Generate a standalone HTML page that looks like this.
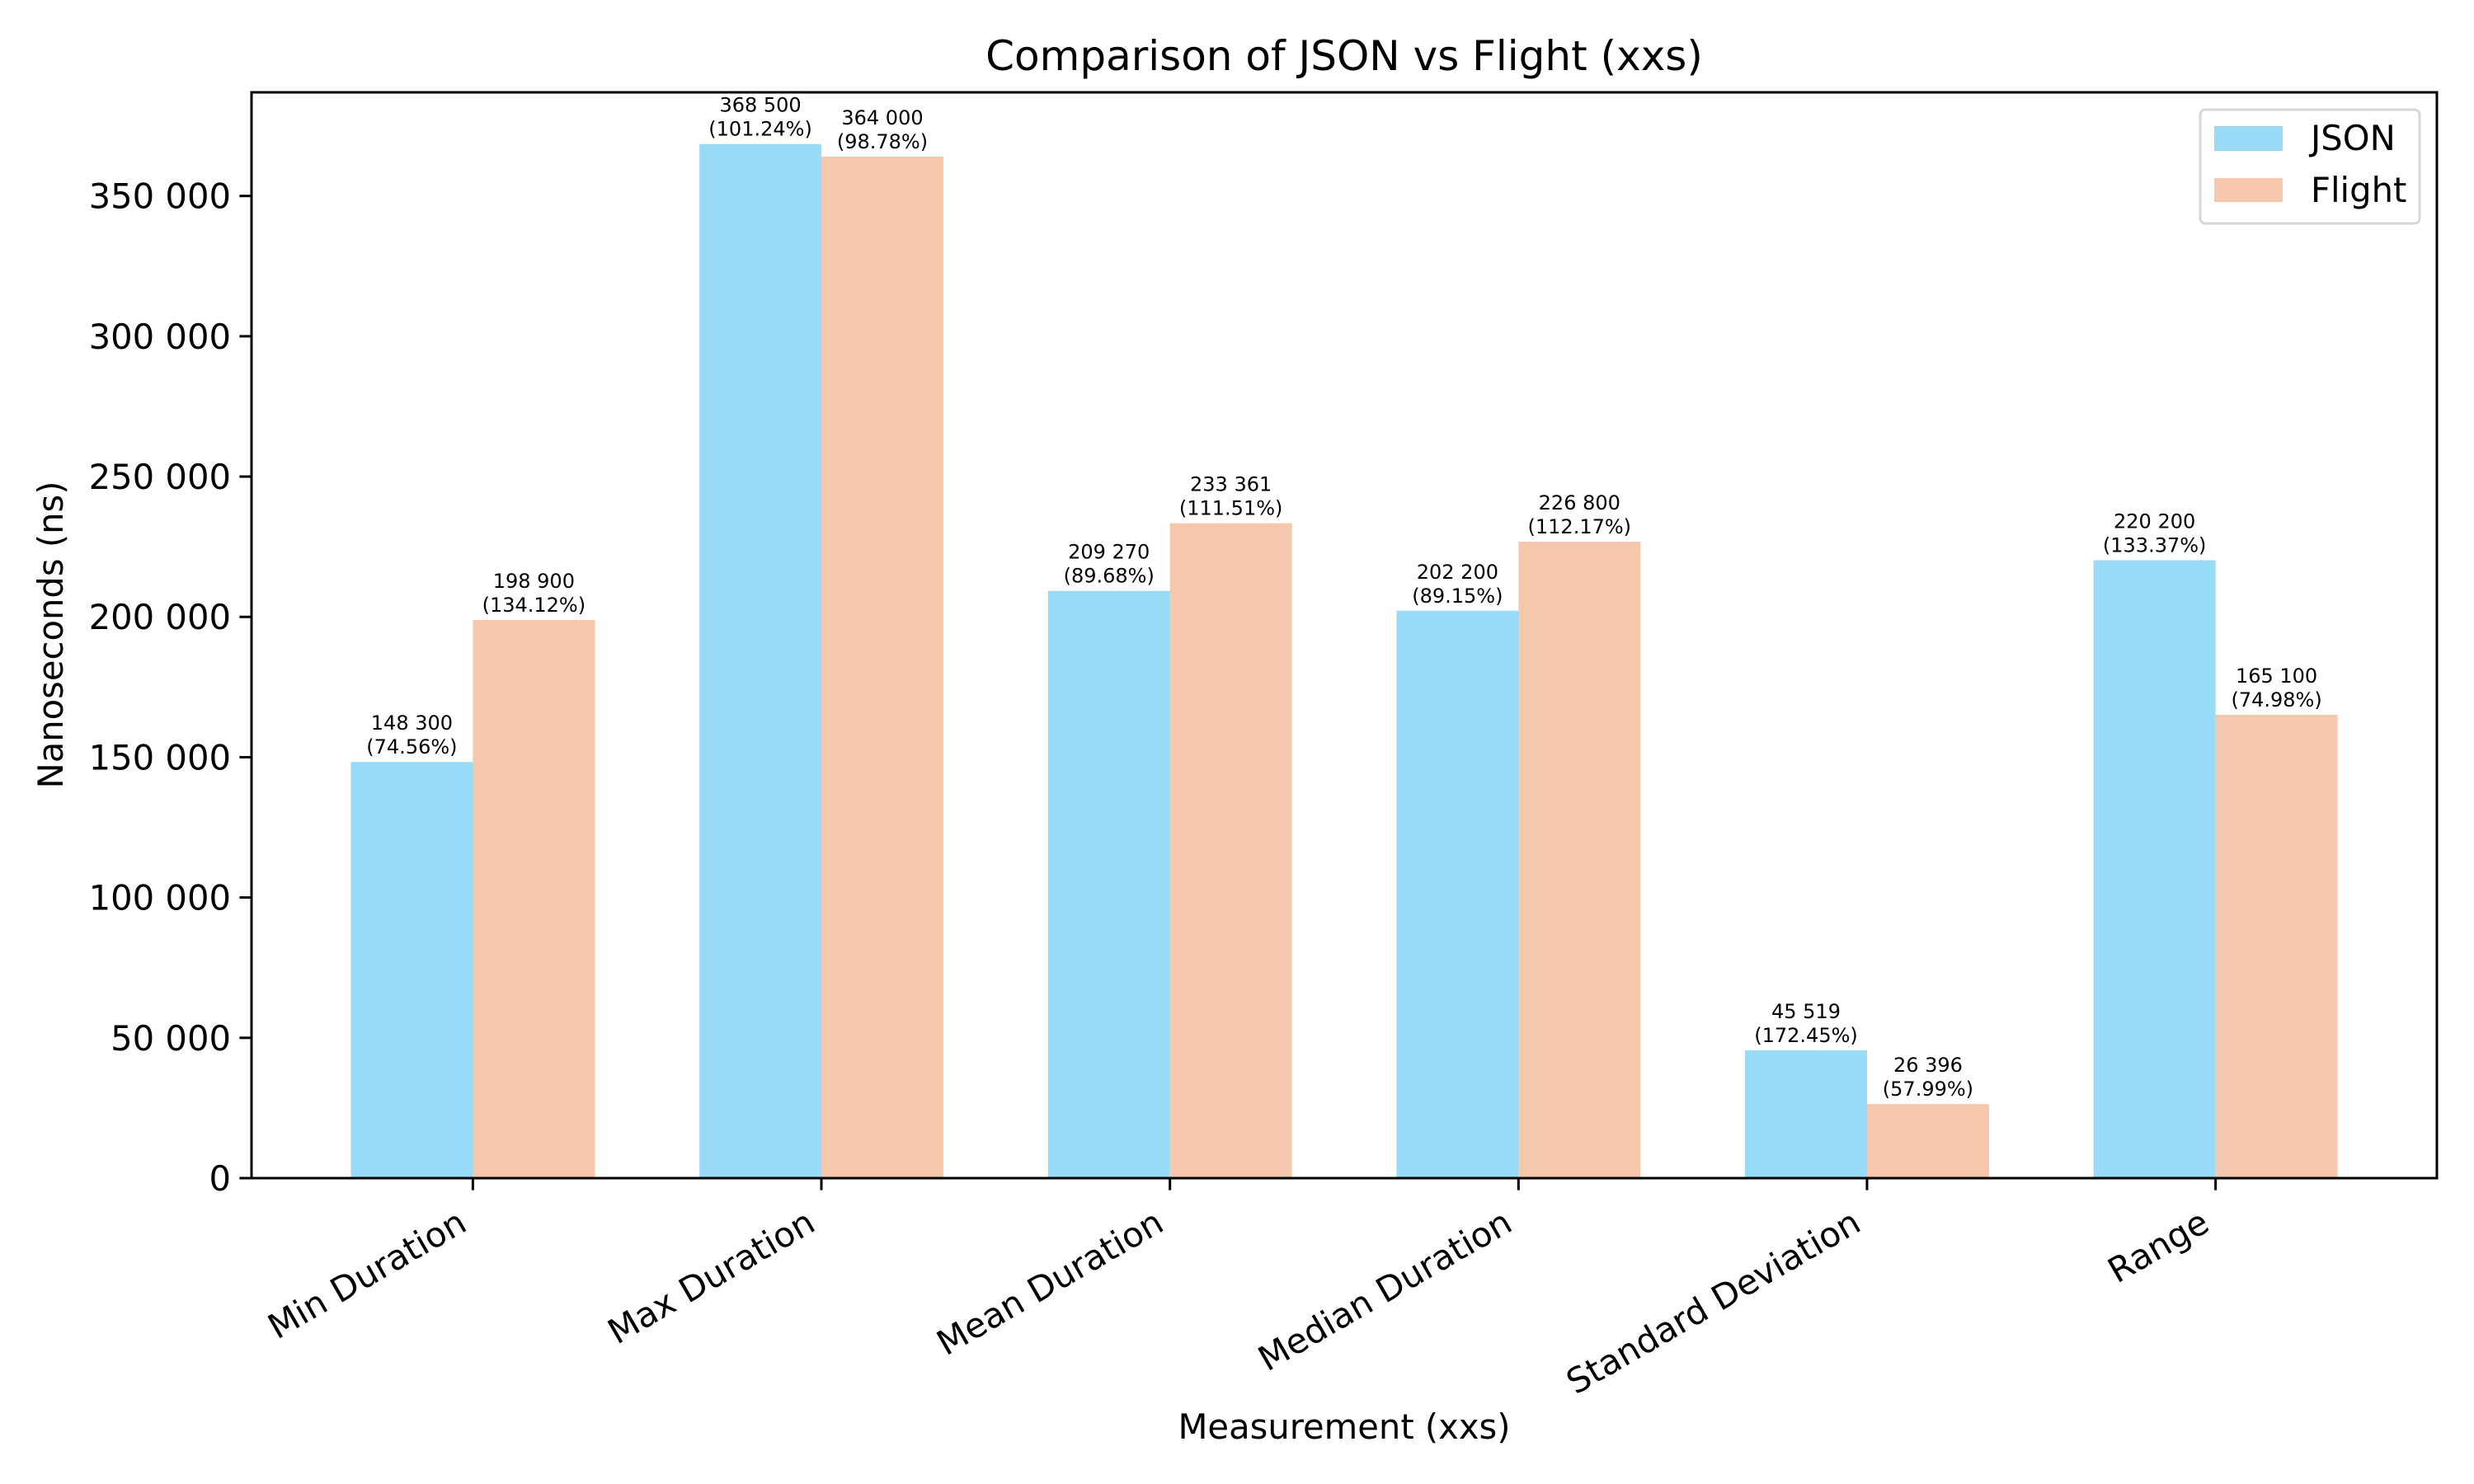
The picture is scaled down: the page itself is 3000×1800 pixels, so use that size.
<!DOCTYPE html>
<html><head><meta charset="utf-8"><style>
html,body{margin:0;padding:0;background:#fff}
svg{display:block;font-family:"DejaVu Sans","Liberation Sans",sans-serif}
</style></head><body>
<svg id="chart" width="3000" height="1800" viewBox="0 0 3000 1800" xmlns="http://www.w3.org/2000/svg">
<rect width="3000" height="1800" fill="#fff"/>
<text x="1630" y="85" font-size="50" text-anchor="middle">Comparison of JSON vs Flight (xxs)</text>
<text transform="translate(76,770) rotate(-90)" font-size="41.7" text-anchor="middle">Nanoseconds (ns)</text>
<text x="1630" y="1745" font-size="41.7" text-anchor="middle">Measurement (xxs)</text>
<g id="bars"></g>
<g id="yticks"></g>
<g id="xticks"></g>
<rect x="305" y="112" width="2650" height="1317" fill="none" stroke="#000" stroke-width="3"/>
<g>
<rect x="2668" y="133" width="266" height="138" rx="6" fill="#fff" fill-opacity="0.8" stroke="#d6d6d6" stroke-width="3"/>
<rect x="2685" y="153" width="83" height="30" fill="#98dbf7"/>
<text x="2802" y="182" font-size="41.7">JSON</text>
<rect x="2685" y="216" width="83" height="29" fill="#f5c7ad"/>
<text x="2802" y="245" font-size="41.7">Flight</text>
</g>
</svg>
<script>
const categories = ["Min Duration","Max Duration","Mean Duration","Median Duration","Standard Deviation","Range"];
const jsonValues = [148300, 368500, 209270, 202200, 45519, 220200];
const flightValues = [198900, 364000, 233361, 226800, 26396, 165100];
const jsonPct = ["74.56%","101.24%","89.68%","89.15%","172.45%","133.37%"];
const flightPct = ["134.12%","98.78%","111.51%","112.17%","57.99%","74.98%"];
const yTicks = [0,50000,100000,150000,200000,250000,300000,350000];

const NS='http://www.w3.org/2000/svg';
const x0=305, x1=2955, y0=1429, yTop=112;
const yMax = 1.05*Math.max(...jsonValues, ...flightValues);
const n = categories.length;
const barW = 0.35;
const xMinD = -barW - 0.05*((n-1)+2*barW), xMaxD = (n-1)+barW + 0.05*((n-1)+2*barW);
const sx = d => x0 + (d - xMinD)/(xMaxD - xMinD)*(x1-x0);
const sy = v => y0 - v/yMax*(y0-yTop);
const fmt = v => String(v).replace(/\B(?=(\d{3})+(?!\d))/g,' ');
function mk(tag, attrs, parent, text){const e=document.createElementNS(NS,tag);for(const k in attrs)e.setAttribute(k,attrs[k]);if(text!==undefined)e.textContent=text;parent.appendChild(e);return e;}
const bars=document.getElementById('bars'), yt=document.getElementById('yticks'), xt=document.getElementById('xticks');
const series=[{vals:jsonValues,pct:jsonPct,color:'#98dbf7',off:-barW/2,key:'json'},{vals:flightValues,pct:flightPct,color:'#f5c7ad',off:barW/2,key:'flight'}];
series.forEach(s=>{
  s.vals.forEach((v,i)=>{
    const cx=i+s.off;
    const left=sx(cx-barW/2), right=sx(cx+barW/2), top=sy(v);
    const r=mk('rect',{x:left,y:top,width:right-left,height:y0-top,fill:s.color},bars);
    
    
    const t1=mk('text',{x:(left+right)/2,y:top-39,'font-size':24,'text-anchor':'middle'},bars,fmt(v));
    
    
    const t2=mk('text',{x:(left+right)/2,y:top-10,'font-size':24,'text-anchor':'middle'},bars,'('+s.pct[i]+')');
    
    
  });
});
yTicks.forEach(v=>{
  const y=sy(v);
  const l=mk('line',{x1:x0-14.6,x2:x0,y1:y,y2:y,stroke:'#000','stroke-width':3},yt);
  
  
  const t=mk('text',{x:x0-25,y:y+15,'font-size':41.7,'text-anchor':'end'},yt,fmt(v));
  
  
});
categories.forEach((c,i)=>{
  const x=sx(i);
  const l=mk('line',{x1:x,x2:x,y1:y0,y2:y0+14.6,stroke:'#000','stroke-width':3},xt);
  
  
  const px=x-5, py=1491;
  const t=mk('text',{x:px,y:py,'font-size':41.7,'text-anchor':'end',transform:'rotate(-30 '+px+' '+py+')'},xt,c);
  
  
});
</script>
</body></html>
